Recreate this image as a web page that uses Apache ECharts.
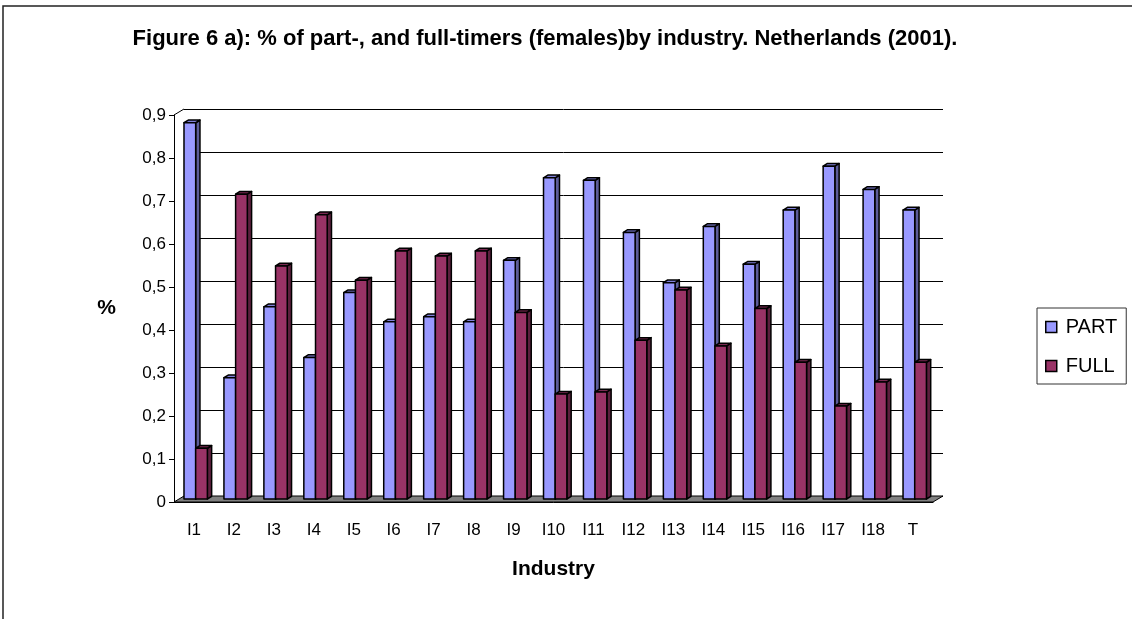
<!DOCTYPE html>
<html>
<head>
<meta charset="utf-8">
<script src="https://cdn.jsdelivr.net/npm/echarts@6/dist/echarts.min.js"></script>
<style>
  html, body { margin: 0; padding: 0; background: #fff; }
  #main { width: 1132px; height: 619px; }
</style>
</head>
<body>
<div id="main"></div>
<script>
// data
var categories = ['I1', 'I2', 'I3', 'I4', 'I5', 'I6', 'I7', 'I8', 'I9', 'I10',
                  'I11', 'I12', 'I13', 'I14', 'I15', 'I16', 'I17', 'I18', 'T'];
var partValues = [0.875, 0.282, 0.447, 0.329, 0.480, 0.412, 0.424, 0.412, 0.555, 0.747,
                  0.741, 0.620, 0.503, 0.634, 0.546, 0.672, 0.774, 0.720, 0.672];
var fullValues = [0.118, 0.709, 0.542, 0.661, 0.509, 0.577, 0.565, 0.577, 0.434, 0.244,
                  0.249, 0.369, 0.486, 0.356, 0.443, 0.318, 0.216, 0.272, 0.318];
var yTicks = { min: 0, max: 0.9, interval: 0.1 };

var FONT = '"Liberation Sans", Arial, sans-serif';

// front plane and the back wall (3d depth offset)
var front = { left: 174, top: 115, width: 759, height: 387 };
var depthX = 10, depthY = 6;
var back = { left: front.left + depthX, top: front.top - depthY, width: front.width, height: front.height };

// bar geometry (fraction of a category band) and 3d faces
var barW = 0.2925, barStart = -0.25;
var sideX = 4.3, sideY = 2.7, shiftY = 3;

var colors = {
  PART: { front: '#9999ff', side: '#5c5c99', top: '#8080d9' },
  FULL: { front: '#993366', side: '#5c1f3d', top: '#7a2952' }
};

var myChart = echarts.init(document.getElementById('main'));

function makeBar(slot, pal) {
  return function (params, api) {
    var i = api.value(0);
    var topPt = api.coord([i, api.value(1)]);
    var basePt = api.coord([i, 0]);
    var w = api.size([1, 0])[0];
    var bw = w * barW;
    var x0 = topPt[0] + w * barStart + slot * bw;
    var y1 = topPt[1] - shiftY;
    var y0 = basePt[1] - shiftY;
    var stroke = { stroke: '#000', lineWidth: 1.5, lineJoin: 'round' };
    return {
      type: 'group',
      children: [
        {
          type: 'polygon',
          shape: { points: [[x0 + bw, y1], [x0 + bw + sideX, y1 - sideY], [x0 + bw + sideX, y0 - sideY], [x0 + bw, y0]] },
          style: Object.assign({ fill: pal.side }, stroke)
        },
        {
          type: 'polygon',
          shape: { points: [[x0, y1], [x0 + sideX, y1 - sideY], [x0 + bw + sideX, y1 - sideY], [x0 + bw, y1]] },
          style: Object.assign({ fill: pal.top }, stroke)
        },
        {
          type: 'rect',
          shape: { x: x0, y: y1, width: bw, height: y0 - y1 },
          style: Object.assign({ fill: pal.front }, stroke)
        }
      ]
    };
  };
}

function pairs(values) {
  return values.map(function (v, i) { return [i, v]; });
}

var option = {
  animation: false,
  backgroundColor: '#fff',
  title: {
    text: 'Figure 6 a): % of part-, and full-timers (females)by industry. Netherlands (2001).',
    left: 540,
    textAlign: 'center',
    top: 23,
    textStyle: { fontFamily: FONT, fontSize: 22, fontWeight: 'bold', color: '#000' }
  },
  legend: {
    orient: 'vertical',
    left: 1037,
    top: 308,
    padding: [9, 9, 8, 8],
    itemGap: 19,
    itemWidth: 11,
    itemHeight: 11,
    icon: 'rect',
    borderColor: '#333',
    borderWidth: 1,
    itemStyle: { borderColor: '#000', borderWidth: 1.5 },
    textStyle: { fontFamily: FONT, fontSize: 20, color: '#000', padding: [0, 0, 0, 4] },
    data: ['PART', 'FULL']
  },
  grid: [
    { left: back.left, top: back.top, width: back.width, height: back.height },
    { left: front.left, top: front.top, width: front.width, height: front.height }
  ],
  xAxis: [
    {
      type: 'category', gridIndex: 0, data: categories,
      axisLine: { show: false }, axisTick: { show: false }, axisLabel: { show: false }
    },
    {
      type: 'category', gridIndex: 1, data: categories, z: 4,
      name: 'Industry', nameLocation: 'middle', nameGap: 57,
      nameTextStyle: { fontFamily: FONT, fontSize: 21, fontWeight: 'bold', color: '#000' },
      axisLine: { lineStyle: { color: '#000', width: 1 } },
      axisTick: { alignWithLabel: false, length: 6, lineStyle: { color: '#555' } },
      axisLabel: { fontFamily: FONT, fontSize: 17, color: '#000', margin: 20 }
    }
  ],
  yAxis: [
    {
      type: 'value', gridIndex: 0, min: yTicks.min, max: yTicks.max, interval: yTicks.interval,
      axisLine: { show: false }, axisTick: { show: false }, axisLabel: { show: false },
      splitLine: { show: true, lineStyle: { color: '#000', width: 1 } }
    },
    {
      type: 'value', gridIndex: 1, min: yTicks.min, max: yTicks.max, interval: yTicks.interval, z: 4,
      name: '%', nameLocation: 'middle', nameGap: 58, nameRotate: 0,
      nameTextStyle: { fontFamily: FONT, fontSize: 21, fontWeight: 'bold', color: '#000' },
      axisLine: { show: true, lineStyle: { color: '#000', width: 1 } },
      axisTick: { show: true, length: 5, lineStyle: { color: '#000' } },
      splitLine: { show: false },
      axisLabel: {
        fontFamily: FONT, fontSize: 17, color: '#000', margin: 8,
        formatter: function (v) { return String(+v.toFixed(1)).replace('.', ','); }
      }
    }
  ],
  graphic: [
    // outer chart frame
    {
      type: 'rect', z: 0, silent: true,
      shape: { x: 3, y: 6, width: 1150, height: 700 },
      style: { fill: 'none', stroke: '#222', lineWidth: 1.5 }
    },
    // floor of the 3d plot
    {
      type: 'polygon', z: 1, silent: true,
      shape: { points: [
        [front.left, front.top + front.height],
        [front.left + front.width, front.top + front.height],
        [back.left + back.width, back.top + back.height],
        [back.left, back.top + back.height]
      ] },
      style: { fill: '#808080', stroke: '#000', lineWidth: 1 }
    },
    // top-left depth edge
    {
      type: 'line', z: 1, silent: true,
      shape: { x1: front.left, y1: front.top, x2: back.left, y2: back.top },
      style: { stroke: '#000', lineWidth: 1 }
    }
  ],
  series: [
    {
      name: 'PART', type: 'custom', xAxisIndex: 1, yAxisIndex: 1, z: 3,
      itemStyle: { color: colors.PART.front },
      encode: { x: 0, y: 1 },
      renderItem: makeBar(0, colors.PART),
      data: pairs(partValues)
    },
    {
      name: 'FULL', type: 'custom', xAxisIndex: 1, yAxisIndex: 1, z: 3,
      itemStyle: { color: colors.FULL.front },
      encode: { x: 0, y: 1 },
      renderItem: makeBar(1, colors.FULL),
      data: pairs(fullValues)
    }
  ]
};

myChart.setOption(option);
</script>
</body>
</html>
